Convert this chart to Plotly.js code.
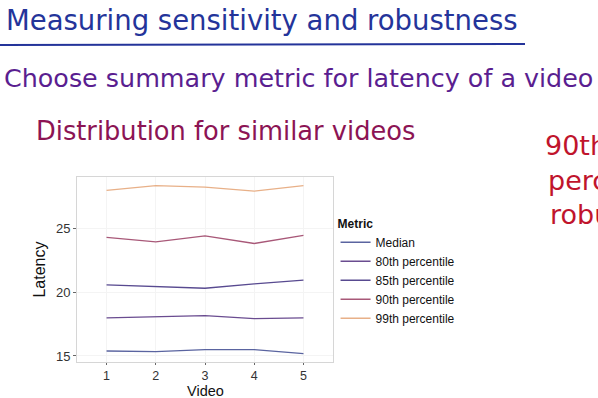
<!DOCTYPE html>
<html><head><meta charset="utf-8">
<script src="https://cdn.plot.ly/plotly-3.0.1.min.js"></script>
<style>html,body{margin:0;padding:0;background:#fff}#c{width:598px;height:398px}</style>
</head><body><div id="c"></div>
<script>
const videos = [1, 2, 3, 4, 5];
const metrics = ["Median", "80th percentile", "85th percentile", "90th percentile", "99th percentile"];
const median = [15.39, 15.34, 15.50, 15.50, 15.18];
const p80 = [17.98, 18.05, 18.16, 17.92, 17.98];
const p85 = [20.56, 20.43, 20.30, 20.64, 20.93];
const p90 = [24.27, 23.93, 24.40, 23.80, 24.43];
const p99 = [27.95, 28.32, 28.21, 27.90, 28.32];
const series = [median, p80, p85, p90, p99];
const colors = ["#5a64a0", "#6a4c90", "#584a90", "#a85878", "#e8b088"];

const traces = series.map((ys, i) => ({
  x: videos, y: ys, type: "scatter", mode: "lines", name: metrics[i],
  line: {color: colors[i], width: 1.3}
}));

const hand = "DejaVu Sans, sans-serif";
const layout = {
  width: 598, height: 398,
  margin: {l: 77, r: 265, t: 177, b: 36},
  paper_bgcolor: "#fff", plot_bgcolor: "#fff",
  showlegend: true,
  font: {family: "Liberation Sans, Arial, sans-serif", color: "#222"},
  xaxis: {
    range: [0.4, 5.6], tickvals: videos, ticktext: videos.map(String),
    showgrid: true, gridcolor: "#f4f4f4", zeroline: false,
    ticks: "outside", ticklen: 2, tickcolor: "#666",
    tickfont: {size: 12.5, color: "#333"},
    showline: true, mirror: true, linecolor: "#d6d6d6"
  },
  yaxis: {
    range: [14.53, 29.0], tickvals: [15, 20, 25],
    showgrid: true, gridcolor: "#f4f4f4", zeroline: false,
    ticks: "outside", ticklen: 3, tickcolor: "#666",
    tickfont: {size: 13, color: "#333"},
    showline: true, mirror: true, linecolor: "#d6d6d6",
    title: {text: "Latency", font: {size: 16, color: "#111"}, standoff: 6}
  },
  legend: {
    x: 1.01, xanchor: "left", y: 0.81, yanchor: "top",
    title: {text: "<b>Metric</b>", font: {size: 12, color: "#111"}},
    font: {size: 12, color: "#111"}, itemwidth: 30, tracegroupgap: 0,
    bgcolor: "rgba(0,0,0,0)"
  },
  annotations: [
    {text: "Video", xref: "paper", yref: "paper",
     x: 0.5, y: -(390.5-362)/185, xanchor: "center", yanchor: "middle", showarrow: false,
     font: {size: 14.5, color: "#111"}, borderpad: 0},
    {text: "Measuring sensitivity and robustness", xref: "paper", yref: "paper",
     x: -73/256, y: (398-36-20)/185, xanchor: "left", yanchor: "middle", showarrow: false,
     font: {family: hand, size: 27.5, color: "#24349a"}},
    {text: "Choose summary metric for latency of a video", xref: "paper", yref: "paper",
     x: -75/256, y: (398-36-78)/185, xanchor: "left", yanchor: "middle", showarrow: false,
     font: {family: hand, size: 25.4, color: "#5a1e90"}},
    {text: "Distribution for similar videos", xref: "paper", yref: "paper",
     x: -43/256, y: (398-36-131)/185, xanchor: "left", yanchor: "middle", showarrow: false,
     font: {family: hand, size: 25.7, color: "#8c1454"}},
    {text: "90th", xref: "paper", yref: "paper",
     x: (543-77)/256, y: (398-36-145)/185, xanchor: "left", yanchor: "middle", showarrow: false,
     font: {family: hand, size: 27, color: "#c0142c"}},
    {text: "perc", xref: "paper", yref: "paper",
     x: (546-77)/256, y: (398-36-180)/185, xanchor: "left", yanchor: "middle", showarrow: false,
     font: {family: hand, size: 27, color: "#c0142c"}},
    {text: "robu", xref: "paper", yref: "paper",
     x: (548-77)/256, y: (398-36-214)/185, xanchor: "left", yanchor: "middle", showarrow: false,
     font: {family: hand, size: 27, color: "#c0142c"}}
  ],
  shapes: [
    {type: "line", xref: "paper", yref: "paper",
     x0: -77/256, x1: (525-77)/256, y0: (398-36-45)/185, y1: (398-36-44)/185,
     line: {color: "#24349a", width: 2}}
  ]
};
Plotly.newPlot("c", traces, layout, {displayModeBar: false, staticPlot: true});
</script></body></html>
